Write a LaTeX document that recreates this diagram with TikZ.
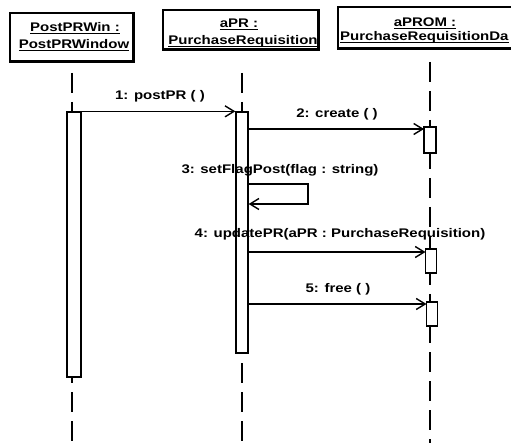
\documentclass[tikz,border=0pt]{standalone}
\usepackage{fontspec}
\setmainfont{Liberation Sans}
\usetikzlibrary{arrows.meta}
\newcommand{\tx}[1]{\scalebox{1.2}[1]{#1}}
\newcommand{\ulx}[1]{\setbox0\hbox{#1}\rlap{\rule[-2.2pt]{\wd0}{1.1pt}}\box0}
\begin{document}
\begin{tikzpicture}[x=1pt,y=-1pt,
  lbl/.style={font=\fontsize{12.5}{14}\selectfont\bfseries, inner sep=0pt, anchor=base},
  objbox/.style={draw, line width=1.2pt, inner sep=0pt},
  shade/.style={line width=2.4pt},
  life/.style={line width=1.4pt, dash pattern=on 20pt off 9pt},
  life2/.style={line width=1.4pt, dash pattern=on 20pt off 10pt},
  act/.style={draw, line width=1.3pt, fill=white, inner sep=0pt},
  msg/.style={line width=1.5pt, -{Straight Barb[length=9pt,width=11pt,line width=1.4pt]}},
]
\useasboundingbox (0,0) rectangle (511,443);
\clip (0,0) rectangle (511,443);
\fill[white] (0,0) rectangle (511,443);

% object boxes
\node[objbox, minimum width=123pt, minimum height=48pt] (b1) at (71.5,37) {};
\node[objbox, minimum width=155pt, minimum height=39pt] (b2) at (240.5,29.5) {};
\node[objbox, minimum width=184pt, minimum height=41pt] (b3) at (430,27.5) {};
\draw[shade] (b1.south west) -- (b1.south east) -- (b1.north east);
\draw[shade] (b2.south west) -- (b2.south east) -- (b2.north east);
\draw[shade] (b3.south west) -- (b3.south east);

% object texts
\node[lbl] (t1a) at (75,32) {\tx{\ulx{PostPRWin :}}};
\node[lbl] (t1b) at (74,49) {\tx{\ulx{PostPRWindow}}};
\node[lbl] (t2a) at (239,28) {\tx{\ulx{aPR :}}};
\node[lbl] (t2b) at (243,45) {\tx{\ulx{PurchaseRequisition}}};
\node[lbl] (t3a) at (425,27) {\tx{\ulx{aPROM :}}};
\node[lbl, anchor=base west] (t3b) at (340,41) {\tx{\ulx{PurchaseRequisitionDa}}};

% lifeline points
\coordinate (s1) at (72,73);
\coordinate (s2) at (242,73);
\coordinate (s3) at (430,62);
\coordinate (e1) at (72,443);
\coordinate (e2) at (242,443);
\coordinate (e3) at (430,443);

% lifelines (behind activations)
\draw[life] (s1) -- (e1);
\draw[life] (s2) -- (e2);
\draw[life] (s3) -- (e3);

% activations
\node[act, minimum width=14pt, minimum height=265pt] (a1) at (74,244.5) {};
\node[act, minimum width=12pt, minimum height=241pt] (a2) at (242,232.5) {};
\node[act, minimum width=12pt, minimum height=26pt] (a3) at (430,140) {};
\node[act, minimum width=11pt, minimum height=24pt] (a4) at (431,261) {};
\node[act, minimum width=11pt, minimum height=24pt] (a5) at (432,314) {};

% message end points
\coordinate (m2) at (424,129);
\coordinate (l3a) at (308,184);
\coordinate (l3b) at (308,204);
\coordinate (m4) at (425.5,252);
\coordinate (m5) at (426.5,304);

% messages
\draw[msg] (a1.north west) -- (a2.north west);
\draw[msg] (a2.east |- m2) -- (m2);
\draw[msg] (a2.east |- l3a) -- (l3a) -- (l3b) -- (a2.east |- l3b);
\draw[msg] (a2.east |- m4) -- (m4);
\draw[msg] (a2.east |- m5) -- (m5);

% message labels
\node[lbl] (n1) at (160,100) {\tx{1: postPR ( )}};
\node[lbl] (n2) at (337,118) {\tx{2: create ( )}};
\node[lbl] (n3) at (280,174) {\tx{3: setFlagPost(flag : string)}};
\node[lbl] (n4) at (340,238) {\tx{4: updatePR(aPR : PurchaseRequisition)}};
\node[lbl] (n5) at (338,293) {\tx{5: free ( )}};
\end{tikzpicture}
\end{document}
